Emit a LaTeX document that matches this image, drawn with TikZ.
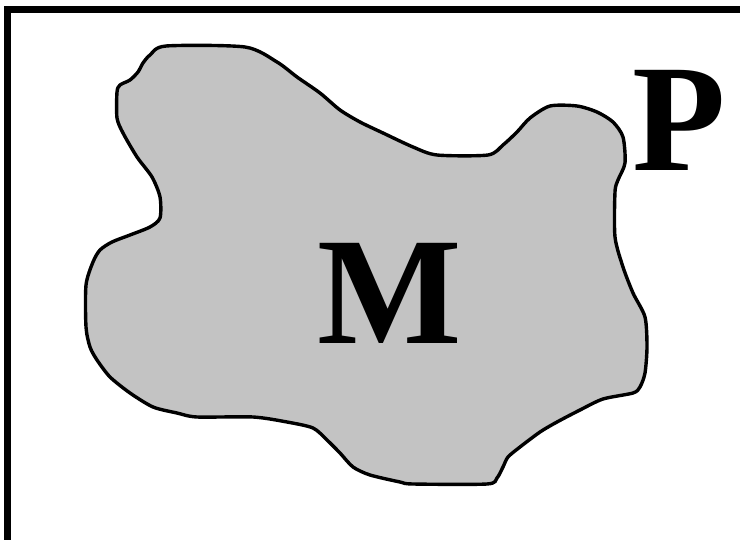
\documentclass[tikz,border=0pt]{standalone}
\usepackage{fontspec}
\setmainfont{Liberation Serif}
\begin{document}
\begin{tikzpicture}[x=1pt,y=-1pt,
  blob/.style={draw=black,line width=3.4pt,fill=blobgray,line join=round},
  bigletter/.style={inner sep=0pt,anchor=base,font=\fontsize{153}{153}\selectfont\bfseries}]
\definecolor{blobgray}{RGB}{195,195,195}
\useasboundingbox (0,0) rectangle (740,540);
\begin{scope}
\clip (0,0) rectangle (740,540);
\fill[white] (0,0) rectangle (740,540);
\draw[line width=7pt] (7.5,9.5) rectangle (760,543);
\end{scope}
\draw[blob] plot[smooth cycle,tension=0.45] coordinates {
(166,46) (245,47) (277,62) (297,77) (320,93) (340,110) (360,122) (383,133) (413,147) (437,155) (488,155) (503,145) (517,132) (530,118) (550,106) (577,106) (597,112) (613,122) (623,137) (625,163) (618,180) (615,192) (615,237) (623,267) (633,293) (645,317) (647,347) (645,373) (640,387) (633,393) (603,399) (580,410) (557,422) (540,432) (520,447) (508,457) (503,467) (497,478) (487,484) (413,484) (400,482) (370,475) (353,467) (340,453) (327,440) (313,428) (287,422) (253,417) (197,417) (177,413) (153,407) (130,393) (110,377) (97,360) (90,347) (86,327) (86,285) (93,262) (100,250) (112,242) (130,235) (150,227) (160,218) (160,197) (152,177) (137,157) (123,133) (117,118) (117,92) (120,85) (130,80) (138,72) (143,63) (150,55)};
\node[bigletter] (M) at (390,344) {M};
\node[bigletter] (P) at (679,171) {P};
\end{tikzpicture}
\end{document}
